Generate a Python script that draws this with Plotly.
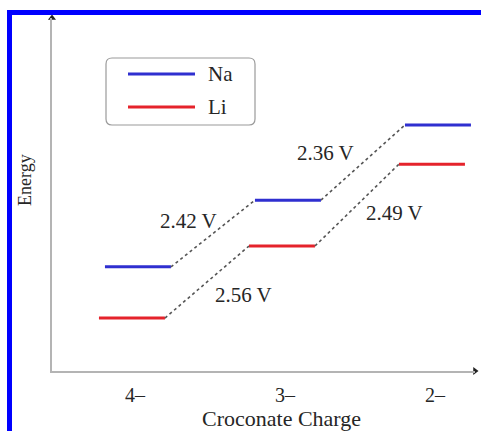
import plotly.graph_objects as go

# ---- data ----
charges = ["4\u2013", "3\u2013", "2\u2013"]
charge_pos = [0, 1, 2]
na_energy = [2.95, 4.84, 6.97]
li_energy = [1.50, 3.54, 5.86]
na_voltages = ["2.42 V", "2.36 V"]
li_voltages = ["2.56 V", "2.49 V"]
series_names = ["Na", "Li"]

# ---- layout constants (pixels) ----
W, H = 481, 431
L, R, T, B = 52, 6, 18, 60
PW, PH = W - L - R, H - T - B
XR = [-0.553, 2.267]
YR = [0, 10]
HW = 0.22          # half width of a level
OFF = {"Na": 0.02, "Li": -0.02}
COL = {"Na": "#2f2fd0", "Li": "#e5232b"}
FONT = "Liberation Serif, Times New Roman, serif"
TXT = "#262626"


def px(x):
    return (x - L) / PW


def py(y):
    return (H - B - y) / PH


fig = go.Figure()

for name, energies in (("Na", na_energy), ("Li", li_energy)):
    xs, ys = [], []
    for c, e in zip(charge_pos, energies):
        xs += [c + OFF[name] - HW, c + OFF[name] + HW, None]
        ys += [e, e, None]
    fig.add_trace(go.Scatter(x=xs, y=ys, mode="lines", name=name,
                             line=dict(color=COL[name], width=3),
                             showlegend=False, hoverinfo="skip"))
    cx, cy = [], []
    for i in range(len(charge_pos) - 1):
        cx += [charge_pos[i] + OFF[name] + HW, charge_pos[i + 1] + OFF[name] - HW, None]
        cy += [energies[i], energies[i + 1], None]
    fig.add_trace(go.Scatter(x=cx, y=cy, mode="lines",
                             line=dict(color="#555555", width=1.6, dash="3px,3px"),
                             showlegend=False, hoverinfo="skip"))

# voltage labels at connector midpoints
na_shift = [(-24, 13), (-37, 10)]
li_shift = [(37, -13), (38, -8)]
for name, energies, labels, shifts in (("Na", na_energy, na_voltages, na_shift),
                                        ("Li", li_energy, li_voltages, li_shift)):
    for i, lab in enumerate(labels):
        mx = (charge_pos[i] + charge_pos[i + 1]) / 2 + OFF[name]
        my = (energies[i] + energies[i + 1]) / 2
        fig.add_annotation(x=mx, y=my, text=lab, showarrow=False,
                           xanchor="center", yanchor="middle",
                           xshift=shifts[i][0], yshift=shifts[i][1],
                           font=dict(family=FONT, size=21, color=TXT))

# arrow heads on axes
fig.add_trace(go.Scatter(x=[XR[1]], y=[YR[0]], mode="markers", cliponaxis=False,
                         marker=dict(symbol="triangle-right", size=7, color="#222"),
                         showlegend=False, hoverinfo="skip"))
fig.add_trace(go.Scatter(x=[XR[0]], y=[YR[1]], mode="markers", cliponaxis=False,
                         marker=dict(symbol="triangle-up", size=7, color="#222"),
                         showlegend=False, hoverinfo="skip"))

shapes = []
# blue outer frame
shapes.append(dict(type="rect", xref="paper", yref="paper",
                   x0=px(9.5), x1=px(500), y0=py(12.5), y1=py(460),
                   line=dict(color="#0000ff", width=5), layer="above"))
# legend box (rounded)
bx0, bx1, by0, by1, r = 106, 255, 58, 125, 6
path = (f"M {px(bx0 + r)},{py(by0)} L {px(bx1 - r)},{py(by0)} "
        f"Q {px(bx1)},{py(by0)} {px(bx1)},{py(by0 + r)} "
        f"L {px(bx1)},{py(by1 - r)} Q {px(bx1)},{py(by1)} {px(bx1 - r)},{py(by1)} "
        f"L {px(bx0 + r)},{py(by1)} Q {px(bx0)},{py(by1)} {px(bx0)},{py(by1 - r)} "
        f"L {px(bx0)},{py(by0 + r)} Q {px(bx0)},{py(by0)} {px(bx0 + r)},{py(by0)} Z")
shapes.append(dict(type="path", xref="paper", yref="paper", path=path,
                   line=dict(color="#9a9a9a", width=1.2), fillcolor="white"))
for name, yy in (("Na", 74), ("Li", 107)):
    shapes.append(dict(type="line", xref="paper", yref="paper",
                       x0=px(128), x1=px(195), y0=py(yy), y1=py(yy),
                       line=dict(color=COL[name], width=3)))
    fig.add_annotation(xref="paper", yref="paper", x=px(206), y=py(yy),
                       text=name, showarrow=False, xanchor="left", yanchor="middle",
                       font=dict(family=FONT, size=21, color=TXT))

# axis titles
fig.add_annotation(xref="paper", yref="paper", x=px(281), y=py(418),
                   text="Croconate Charge", showarrow=False,
                   xanchor="center", yanchor="middle",
                   font=dict(family=FONT, size=22, color=TXT))
fig.add_annotation(xref="paper", yref="paper", x=px(25), y=py(180),
                   text="Energy", showarrow=False, textangle=-90,
                   xanchor="center", yanchor="middle",
                   font=dict(family=FONT, size=18, color=TXT))

fig.update_layout(
    width=W, height=H,
    margin=dict(l=L, r=R, t=T, b=B),
    paper_bgcolor="white", plot_bgcolor="white",
    shapes=shapes, showlegend=False,
    xaxis=dict(range=XR, tickvals=charge_pos, ticktext=charges,
               showgrid=False, zeroline=False, showline=True,
               linecolor="#b4b4b4", linewidth=1.5, ticks="",
               ticklabelstandoff=5,
               tickfont=dict(family=FONT, size=20, color=TXT)),
    yaxis=dict(range=YR, showticklabels=False, showgrid=False, zeroline=False,
               showline=True, linecolor="#b4b4b4", linewidth=1.5, ticks=""),
)

fig.write_html("out.html", config={"displayModeBar": False},
               post_script="document.body.style.margin='0px';document.body.style.overflow='hidden';")
